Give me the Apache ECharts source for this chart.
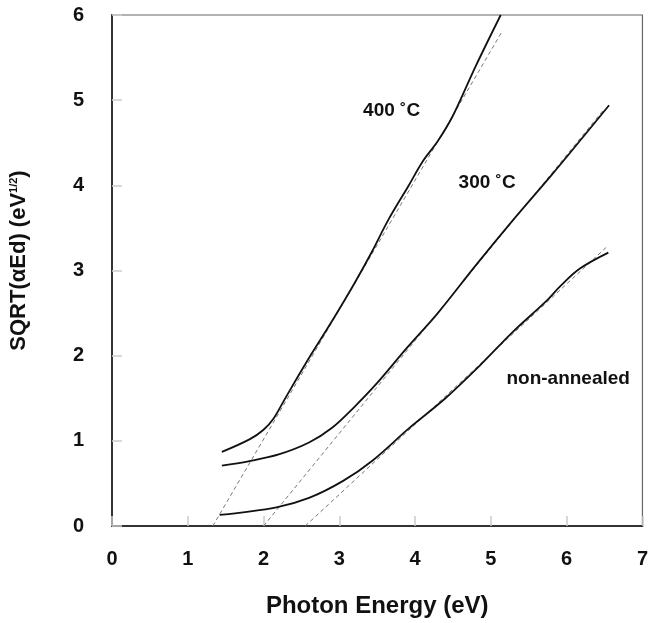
<!DOCTYPE html>
<html>
<head>
<meta charset="utf-8">
<script src="https://cdn.jsdelivr.net/npm/echarts@6/dist/echarts.min.js"></script>
<style>
html,body{margin:0;padding:0;background:#fff;}
#chart{width:651px;height:623px;}
</style>
</head>
<body>
<div id="chart"></div>
<script>
// Curve data (x = photon energy eV, y = SQRT(αEd))
const x400 = [1.45, 1.82, 2.0, 2.13, 2.28, 2.55, 2.92, 3.2, 3.43, 3.65, 3.91, 4.1, 4.3, 4.5, 4.8, 5.13];
const y400 = [0.87, 1.02, 1.13, 1.26, 1.49, 1.9, 2.43, 2.85, 3.22, 3.6, 3.99, 4.28, 4.52, 4.82, 5.4, 6.0];
const x300 = [1.45, 1.8, 2.2, 2.6, 2.9, 3.2, 3.5, 3.9, 4.3, 4.8, 5.3, 5.8, 6.2, 6.56];
const y300 = [0.71, 0.76, 0.84, 0.98, 1.15, 1.4, 1.68, 2.1, 2.5, 3.06, 3.6, 4.12, 4.55, 4.94];
const xNon = [1.42, 2.17, 2.6, 3.05, 3.44, 3.91, 4.4, 4.85, 5.29, 5.73, 5.91, 6.17, 6.55];
const yNon = [0.13, 0.22, 0.33, 0.53, 0.77, 1.14, 1.5, 1.88, 2.28, 2.64, 2.81, 3.02, 3.21];
// Linear extrapolation (dashed) end points
const fit400 = [[1.33, 0], [5.15, 5.81]];
const fit300 = [[2.0, 0], [6.5, 4.9]];
const fitNon = [[2.55, 0], [6.52, 3.27]];
// Annotations
const annoNames = ['400 ˚C', '300 ˚C', 'non-annealed'];
const annoX = [3.69, 4.95, 6.02];
const annoY = [4.88, 4.03, 1.73];
const xTicks = [0, 7, 1];
const yTicks = [0, 6, 1];

const zip = (xs, ys) => xs.map((v, i) => [v, ys[i]]);
const FONT = '"Liberation Sans", Arial, sans-serif';

const curve = (d) => ({
  type: 'line', data: d, smooth: 0.35, symbol: 'none',
  lineStyle: { color: '#111', width: 1.8 }, z: 3
});
const dash = (d) => ({
  type: 'line', data: d, symbol: 'none',
  lineStyle: { color: '#777', width: 1, type: [4, 3] }, z: 2
});

const chart = echarts.init(document.getElementById('chart'));
chart.setOption({
  backgroundColor: '#fff',
  animation: false,
  grid: { left: 112, top: 15, right: 8, bottom: 96, show: true, borderColor: '#666', borderWidth: 1.2 },
  xAxis: {
    type: 'value', min: xTicks[0], max: xTicks[1], interval: xTicks[2],
    axisLine: { show: true, lineStyle: { color: '#333', width: 2 } },
    axisTick: { show: true, inside: true, length: 10, lineStyle: { color: '#ccc', width: 1.5 } },
    splitLine: { show: false },
    axisLabel: { color: '#111', fontFamily: FONT, fontWeight: 'bold', fontSize: 20, margin: 23 },
    name: 'Photon Energy (eV)', nameLocation: 'middle', nameGap: 68,
    nameTextStyle: { color: '#111', fontFamily: FONT, fontWeight: 'bold', fontSize: 24 }
  },
  yAxis: {
    type: 'value', min: yTicks[0], max: yTicks[1], interval: yTicks[2],
    axisLine: { show: true, lineStyle: { color: '#333', width: 2 } },
    axisTick: { show: true, inside: true, length: 10, lineStyle: { color: '#ccc', width: 1.5 } },
    splitLine: { show: false },
    axisLabel: { color: '#111', fontFamily: FONT, fontWeight: 'bold', fontSize: 20, margin: 28 },
    name: '{a|SQRT(αEd) (eV}{s|1/2}{a|)}', nameLocation: 'middle', nameGap: 82, nameRotate: 90,
    nameTextStyle: {
      color: '#111', fontFamily: FONT, fontWeight: 'bold', fontSize: 22, padding: [0, 0, 0, 20],
      rich: {
        a: { color: '#111', fontFamily: FONT, fontWeight: 'bold', fontSize: 22 },
        s: { color: '#111', fontFamily: FONT, fontWeight: 'bold', fontSize: 11, verticalAlign: 'top', padding: [0, 0, 11, 0] }
      }
    }
  },
  series: [
    dash(fit400), dash(fit300), dash(fitNon),
    curve(zip(x400, y400)), curve(zip(x300, y300)), curve(zip(xNon, yNon)),
    {
      type: 'line', data: [], symbol: 'none', silent: true,
      markPoint: {
        symbol: 'circle', symbolSize: 0, silent: true,
        data: annoNames.map((n, i) => ({ name: n, coord: [annoX[i], annoY[i]] })),
        label: { show: true, position: 'inside', formatter: p => p.name,
          color: '#111', fontFamily: FONT, fontWeight: 'bold', fontSize: 19,
          textBorderWidth: 0 }
      },
      z: 5
    }
  ]
});
</script>
</body>
</html>
